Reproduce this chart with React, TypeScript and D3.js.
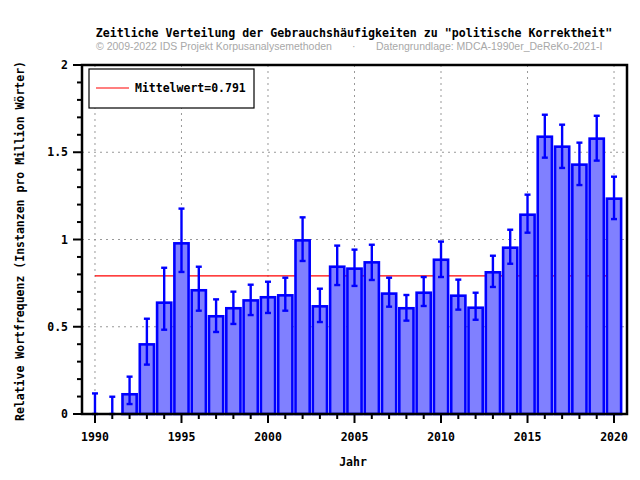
import React, { useEffect, useRef } from "react";
import * as d3 from "d3";

const years = [
  1990, 1991, 1992, 1993, 1994, 1995, 1996, 1997, 1998, 1999, 2000, 2001, 2002, 2003, 2004, 2005,
  2006, 2007, 2008, 2009, 2010, 2011, 2012, 2013, 2014, 2015, 2016, 2017, 2018, 2019, 2020,
];
const freq = [
  0, 0, 0.113, 0.399, 0.638, 0.978, 0.709, 0.56, 0.606, 0.651, 0.669, 0.68, 0.995, 0.617, 0.844, 0.833,
  0.869, 0.69, 0.606, 0.695, 0.884, 0.678, 0.609, 0.812, 0.953, 1.142, 1.589, 1.532, 1.429, 1.578, 1.234,
];
const errLow = [
  0, 0, 0.057, 0.283, 0.483, 0.814, 0.592, 0.47, 0.516, 0.567, 0.579, 0.592, 0.877, 0.527, 0.739, 0.734,
  0.768, 0.615, 0.535, 0.619, 0.785, 0.598, 0.54, 0.728, 0.861, 1.039, 1.469, 1.41, 1.312, 1.452, 1.117,
];
const errHigh = [
  0.118, 0.099, 0.214, 0.546, 0.838, 1.177, 0.844, 0.657, 0.701, 0.741, 0.758, 0.781, 1.127, 0.718, 0.965, 0.942,
  0.97, 0.781, 0.682, 0.785, 0.988, 0.77, 0.695, 0.907, 1.056, 1.257, 1.715, 1.658, 1.555, 1.709, 1.36,
];
const meanValue = 0.791;
const xTickLabels = [1990, 1995, 2000, 2005, 2010, 2015, 2020];
const yTickLabels = [0, 0.5, 1, 1.5, 2];

const MONO = "'DejaVu Sans Mono', monospace";

export default function App() {
  const ref = useRef<SVGSVGElement>(null);

  useEffect(() => {
    const svg = d3.select(ref.current);
    svg.selectAll("*").remove();

    const left = 82, right = 627, top = 65, bottom = 414;

    const x = d3.scaleLinear().domain([1989.25, 2020.75]).range([left, right]);
    const y = d3.scaleLinear().domain([0, 2]).range([bottom, top]);
    const barW = (x(1) - x(0)) * 0.82;

    svg.append("rect").attr("width", 640).attr("height", 480).attr("fill", "#fff");

    // title
    svg.append("text")
      .attr("x", 354).attr("y", 37)
      .attr("text-anchor", "middle")
      .style("font-family", MONO).style("font-weight", "bold").style("font-size", "11.6px")
      .text('Zeitliche Verteilung der Gebrauchshäufigkeiten zu "politische Korrektheit"');

    const sub = svg.append("g")
      .style("font-family", "'Liberation Sans', Arial, sans-serif").style("font-size", "10.5px")
      .attr("fill", "#a8a8a8");
    sub.append("text").attr("x", 96).attr("y", 50).text("© 2009-2022 IDS Projekt Korpusanalysemethoden");
    sub.append("text").attr("x", 352).attr("y", 50).text("·");
    sub.append("text").attr("x", 376).attr("y", 50).text("Datengrundlage: MDCA-1990er_DeReKo-2021-I");

    // grid
    const grid = svg.append("g").attr("stroke", "#999").attr("stroke-width", 1).attr("stroke-dasharray", "2,4");
    grid.selectAll(".gx").data(xTickLabels).join("line")
      .attr("x1", d => x(d)).attr("x2", d => x(d)).attr("y1", top).attr("y2", bottom);
    grid.selectAll(".gy").data(yTickLabels.filter(d => d > 0 && d < 2)).join("line")
      .attr("x1", left).attr("x2", right).attr("y1", d => y(d)).attr("y2", d => y(d));

    // mean line
    svg.append("line")
      .attr("x1", x(1990)).attr("x2", x(2020))
      .attr("y1", y(meanValue)).attr("y2", y(meanValue))
      .attr("stroke", "#ff0000").attr("stroke-width", 1.2);

    const data = years.map((yr, i) => ({ yr, v: freq[i], lo: errLow[i], hi: errHigh[i] }));

    // bars
    svg.append("g").selectAll("rect")
      .data(data.filter(d => d.v > 0))
      .join("rect")
      .attr("x", d => x(d.yr) - barW / 2)
      .attr("y", d => y(d.v))
      .attr("width", barW)
      .attr("height", d => y(0) - y(d.v))
      .attr("fill", "#8080ff")
      .attr("stroke", "#0000ff")
      .attr("stroke-width", 2.6);

    // error bars
    const eb = svg.append("g").attr("stroke", "#0000ff").attr("stroke-width", 2.4);
    eb.selectAll(".v").data(data).join("line")
      .attr("x1", d => x(d.yr)).attr("x2", d => x(d.yr))
      .attr("y1", d => y(d.lo)).attr("y2", d => y(d.hi));
    eb.selectAll(".ch").data(data).join("line")
      .attr("x1", d => x(d.yr) - 3).attr("x2", d => x(d.yr) + 3)
      .attr("y1", d => y(d.hi)).attr("y2", d => y(d.hi));
    eb.selectAll(".cl").data(data).join("line")
      .attr("x1", d => x(d.yr) - 3).attr("x2", d => x(d.yr) + 3)
      .attr("y1", d => y(d.lo)).attr("y2", d => y(d.lo));

    // frame
    svg.append("rect")
      .attr("x", left).attr("y", top).attr("width", right - left).attr("height", bottom - top)
      .attr("fill", "none").attr("stroke", "#000").attr("stroke-width", 2.5);

    // ticks
    const ticks = svg.append("g").attr("stroke", "#000").attr("stroke-width", 2);
    const yMinor = d3.range(0, 2.001, 0.1);
    ticks.selectAll(".ty").data(yMinor).join("line")
      .attr("x1", d => (Math.abs(d * 2 - Math.round(d * 2)) < 1e-6 ? left - 9 : left - 5))
      .attr("x2", left)
      .attr("y1", d => y(d)).attr("y2", d => y(d));
    ticks.selectAll(".tx").data(years).join("line")
      .attr("x1", d => x(d)).attr("x2", d => x(d))
      .attr("y1", bottom)
      .attr("y2", d => (d % 5 === 0 ? bottom + 9 : bottom + 5));

    const lab = svg.append("g")
      .style("font-family", MONO).style("font-weight", "bold").style("font-size", "11.5px");
    lab.selectAll(".ly").data(yTickLabels).join("text")
      .attr("x", 68).attr("y", d => y(d)).attr("dy", "0.35em")
      .attr("text-anchor", "end")
      .text(d => d3.format("~g")(d));
    lab.selectAll(".lx").data(xTickLabels).join("text")
      .attr("x", d => x(d)).attr("y", 441)
      .attr("text-anchor", "middle")
      .text(d => String(d));

    lab.append("text")
      .attr("x", 353).attr("y", 466).attr("text-anchor", "middle").text("Jahr");
    lab.append("text")
      .attr("transform", "translate(24,241) rotate(-90)")
      .attr("text-anchor", "middle")
      .text("Relative Wortfrequenz (Instanzen pro Million Wörter)");

    // legend
    const lg = svg.append("g");
    lg.append("rect").attr("x", 89).attr("y", 69).attr("width", 165).attr("height", 39)
      .attr("fill", "#fff").attr("stroke", "#000").attr("stroke-width", 1.2);
    lg.append("line").attr("x1", 96).attr("x2", 129).attr("y1", 88).attr("y2", 88)
      .attr("stroke", "#ff0000").attr("stroke-width", 1.2);
    lg.append("text").attr("x", 135).attr("y", 88).attr("dy", "0.35em")
      .style("font-family", MONO).style("font-weight", "bold").style("font-size", "11.5px")
      .text("Mittelwert=" + meanValue);
  }, []);

  return (
    <svg
      ref={ref}
      width={640}
      height={480}
      style={{ position: "absolute", left: 0, top: 0, display: "block" }}
    />
  );
}
